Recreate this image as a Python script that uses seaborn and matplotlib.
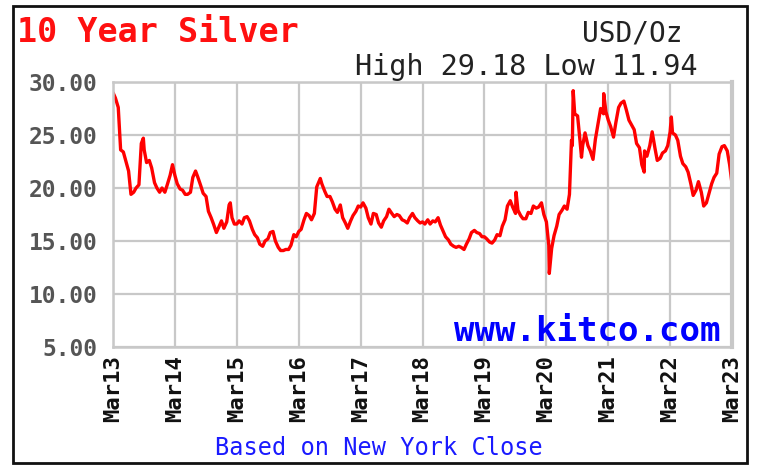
import matplotlib
matplotlib.use("Agg")
import matplotlib.pyplot as plt
from matplotlib.patches import Rectangle
import seaborn as sns
import pandas as pd

# ---------------- data ----------------
# semi-monthly closes (1st and 15th of each month), Mar 2013 .. Mar 2023
prices_2013 = [29.0, 28.5, 27.6, 23.6, 23.4, 22.6, 21.6, 19.4, 19.6, 20.0, 20.3, 24.2,
               23.6, 22.4, 22.6, 21.9, 20.5, 20.0, 19.6, 20.0, 19.6, 20.3, 21.2, 22.2]
prices_2014 = [21.2, 20.4, 19.9, 19.8, 19.4, 19.4, 19.6, 21.0, 21.6, 21.0, 20.2, 19.5,
               19.2, 17.8, 17.2, 16.6, 15.8, 16.3, 16.9, 16.2, 16.8, 18.4, 17.2, 16.6]
prices_2015 = [16.6, 16.9, 16.6, 17.2, 17.3, 16.9, 16.1, 15.6, 15.3, 14.7, 14.5, 15.0,
               15.2, 15.8, 15.9, 15.0, 14.4, 14.1, 14.1, 14.2, 14.2, 14.6, 15.6, 15.4]
prices_2016 = [15.9, 16.1, 17.0, 17.6, 17.4, 17.0, 17.6, 20.1, 20.7, 20.4, 19.7, 19.2,
               19.2, 18.7, 18.0, 17.7, 18.4, 17.2, 16.7, 16.2, 16.9, 17.4, 17.8, 18.3]
prices_2017 = [18.2, 18.6, 18.1, 17.2, 16.6, 17.6, 17.5, 16.7, 16.3, 16.9, 17.3, 18.0,
               17.6, 17.3, 17.5, 17.4, 17.0, 16.9, 16.7, 17.2, 17.6, 17.2, 16.9, 16.7]
prices_2018 = [16.8, 16.6, 17.0, 16.6, 16.9, 16.8, 17.2, 16.5, 15.9, 15.4, 15.1, 14.7,
               14.5, 14.4, 14.5, 14.4, 14.2, 14.7, 15.2, 15.8, 16.0, 15.8, 15.7, 15.4]
prices_2019 = [15.4, 15.2, 14.9, 14.8, 15.1, 15.6, 15.5, 16.4, 17.0, 18.3, 18.8, 18.2,
               17.6, 17.9, 17.4, 17.1, 17.1, 17.7, 17.6, 18.3, 18.1, 18.2, 18.6, 17.5]
prices_2020 = [16.8, 14.6, 14.3, 15.5, 16.4, 17.5, 17.9, 18.3, 18.0, 19.4, 24.0, 27.0,
               26.8, 24.5, 24.0, 25.2, 24.0, 23.5, 22.7, 24.6, 26.2, 27.5, 27.0, 27.2]
prices_2021 = [26.4, 25.8, 24.8, 26.2, 27.6, 28.0, 28.2, 27.4, 26.4, 26.0, 25.5, 24.2,
               23.8, 22.2, 23.5, 23.0, 24.0, 25.3, 23.8, 22.6, 22.8, 23.3, 23.5, 24.0]
prices_2022 = [25.3, 25.2, 25.0, 24.5, 23.0, 22.3, 22.0, 21.5, 20.4, 19.3, 19.8, 20.6,
               19.6, 18.3, 18.6, 19.4, 20.4, 21.0, 21.4, 23.2, 23.9, 24.0, 23.5, 22.2, 20.4]

# extra daily closes at visible spikes
spike_dates = ["2013-08-27", "2015-01-22", "2016-07-06", "2019-09-04", "2020-03-18",
               "2020-07-27", "2020-08-06", "2020-09-24", "2021-02-02", "2021-09-29",
               "2022-03-08"]
spike_prices = [24.7, 18.6, 20.9, 19.6, 11.94, 24.5, 29.18, 22.9, 28.9, 21.5, 26.7]

tick_dates = ["2013-03-01", "2014-03-01", "2015-03-01", "2016-03-01", "2017-03-01",
              "2018-03-01", "2019-03-01", "2020-03-01", "2021-03-01", "2022-03-01",
              "2023-03-01"]
tick_labels = ["Mar13", "Mar14", "Mar15", "Mar16", "Mar17", "Mar18", "Mar19",
               "Mar20", "Mar21", "Mar22", "Mar23"]
y_ticks = [5, 10, 15, 20, 25, 30]
y_labels = ["5.00", "10.00", "15.00", "20.00", "25.00", "30.00"]

title = "10 Year Silver"
unit = "USD/Oz"
hilo = "High 29.18 Low 11.94"
site = "www.kitco.com"
footer = "Based on New York Close"

# ---------------- build table ----------------
base_prices = (prices_2013 + prices_2014 + prices_2015 + prices_2016 + prices_2017 +
               prices_2018 + prices_2019 + prices_2020 + prices_2021 + prices_2022)
base_dates = pd.date_range("2013-03-01", "2023-03-01", freq="SMS")
df = pd.concat([
    pd.DataFrame({"date": base_dates, "price": base_prices}),
    pd.DataFrame({"date": pd.to_datetime(spike_dates), "price": spike_prices}),
]).sort_values("date").reset_index(drop=True)

# ---------------- figure ----------------
sns.set_style("white")
plt.rcParams["font.family"] = ["DejaVu Sans Mono", "DejaVu Sans"]

W, H = 764, 475
fig = plt.figure(figsize=(W / 100, H / 100), dpi=100)
fig.patch.set_facecolor("white")
ax = fig.add_axes([113 / W, 1 - 347 / H, (732 - 113) / W, (347 - 82) / H])

sns.lineplot(data=df, x="date", y="price", color="#ff0000", linewidth=2.4,
             ax=ax, sort=True, estimator=None)

grid_c = "#c8c8c8"
ax.set_xlim(pd.Timestamp(tick_dates[0]), pd.Timestamp(tick_dates[-1]))
ax.set_ylim(5, 30)
ax.set_xticks(pd.to_datetime(tick_dates))
ax.set_xticklabels(tick_labels, rotation=90, fontsize=16, fontweight="bold",
                   color="#111111", va="top", ha="center")
ax.set_yticks(y_ticks)
ax.set_yticklabels(y_labels, fontsize=16.5, fontweight="bold", color="#555555")
ax.tick_params(axis="x", length=0, pad=6)
ax.tick_params(axis="y", length=0, pad=11)
ax.grid(True, color=grid_c, linewidth=1.6)
ax.set_axisbelow(True)
for s in ax.spines.values():
    s.set_color(grid_c)
    s.set_linewidth(1.8)
ax.spines["right"].set_linewidth(3)
ax.set_xlabel("")
ax.set_ylabel("")

# outer frame
fig.patches.append(Rectangle((12.5 / W, 1 - 463 / H), (747 - 12.5) / W, (463 - 6) / H,
                             transform=fig.transFigure, fill=False,
                             edgecolor="#111111", linewidth=2.0, zorder=10))

# texts
fig.text(17 / W, 1 - 42 / H, title, color="#ff1010", fontsize=24, fontweight="bold",
         ha="left", va="baseline")
fig.text(582 / W, 1 - 42 / H, unit, color="#222222", fontsize=20,
         ha="left", va="baseline")
fig.text(355 / W, 1 - 75 / H, hilo, color="#222222", fontsize=20.5,
         ha="left", va="baseline")
ax.text(720 / W, 1 - 341 / H, site, transform=fig.transFigure, color="#0000ff",
        fontsize=24.5, fontweight="bold", ha="right", va="baseline")
fig.text(379 / W, 1 - 455 / H, footer, color="#1a1aff", fontsize=17,
         ha="center", va="baseline")

fig.savefig("out.png", dpi=100, facecolor="white")
